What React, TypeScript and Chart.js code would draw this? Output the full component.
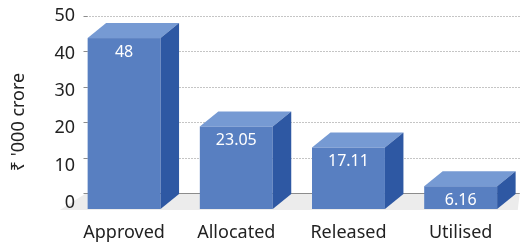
import React, { useEffect, useRef } from 'react';
import { Chart, registerables } from 'chart.js';

Chart.register(...registerables);

const categories = ['Approved', 'Allocated', 'Released', 'Utilised'];
const values = [48, 23.05, 17.11, 6.16];
const valueLabels = ['48', '23.05', '17.11', '6.16'];
const yTicks = [0, 10, 20, 30, 40, 50];
const yTitle = "₹ '000 crore";

const FONT = '"Noto Sans", "DejaVu Sans", sans-serif';
const DX = 18.5;
const DY = 15;
const FRONT_COLOR = '#587fc1';
const TOP_COLOR = '#769ad3';
const SIDE_COLOR = '#2e58a3';

const threeD = {
  id: 'threeD',
  beforeDatasetsDraw(chart: any) {
    const { ctx, chartArea, scales } = chart;
    const y = scales.y;
    const base = y.getPixelForValue(0);
    const wallLeft = chartArea.left + DX;
    const wallRight = chartArea.right + 3;
    ctx.save();
    // floor
    ctx.fillStyle = '#ececec';
    ctx.beginPath();
    ctx.moveTo(wallLeft, base);
    ctx.lineTo(wallRight, base);
    ctx.lineTo(wallRight - 2, base + 17);
    ctx.lineTo(chartArea.left - 8, base + 17);
    ctx.closePath();
    ctx.fill();
    // gridlines
    ctx.lineWidth = 1;
    for (const t of yTicks) {
      const py = Math.round(y.getPixelForValue(t)) + 0.5;
      ctx.beginPath();
      if (t === 0) {
        ctx.setLineDash([]);
        ctx.strokeStyle = '#8c8c8c';
      } else {
        ctx.setLineDash([1, 2]);
        ctx.strokeStyle = '#8a8a8a';
      }
      ctx.moveTo(wallLeft, py);
      ctx.lineTo(wallRight, py);
      ctx.stroke();
      // small tick at the wall edge
      ctx.setLineDash([]);
      ctx.strokeStyle = '#8c8c8c';
      ctx.beginPath();
      ctx.moveTo(wallLeft - 3, py);
      ctx.lineTo(wallLeft + 1, py);
      ctx.stroke();
    }
    ctx.setLineDash([]);
    // y tick labels
    ctx.fillStyle = '#222';
    ctx.font = `18px ${FONT}`;
    ctx.textAlign = 'right';
    ctx.textBaseline = 'middle';
    for (const t of yTicks) {
      const py = y.getPixelForValue(t) + 10 * (1 - t / 50);
      ctx.fillText(String(t), 75, py);
    }
    // y title
    ctx.translate(19, 122);
    ctx.rotate(-Math.PI / 2);
    ctx.textAlign = 'center';
    ctx.fillText(yTitle, 0, 0);
    ctx.restore();
  },
  afterDatasetsDraw(chart: any) {
    const { ctx } = chart;
    const meta = chart.getDatasetMeta(0);
    ctx.save();
    meta.data.forEach((bar: any, i: number) => {
      const w = bar.width;
      const left = bar.x - w / 2;
      const right = bar.x + w / 2;
      const top = bar.y + DY;
      const bottom = bar.base + 16;
      // front
      ctx.fillStyle = FRONT_COLOR;
      ctx.fillRect(left, top, w, bottom - top);
      // top
      ctx.fillStyle = TOP_COLOR;
      ctx.beginPath();
      ctx.moveTo(left, top);
      ctx.lineTo(right, top);
      ctx.lineTo(right + DX, top - DY);
      ctx.lineTo(left + DX, top - DY);
      ctx.closePath();
      ctx.fill();
      // side
      ctx.fillStyle = SIDE_COLOR;
      ctx.beginPath();
      ctx.moveTo(right, top);
      ctx.lineTo(right + DX, top - DY);
      ctx.lineTo(right + DX, bottom - DY);
      ctx.lineTo(right, bottom);
      ctx.closePath();
      ctx.fill();
      // value label
      ctx.fillStyle = '#ffffff';
      ctx.font = `16px ${FONT}`;
      ctx.textAlign = 'center';
      ctx.textBaseline = 'middle';
      ctx.fillText(valueLabels[i], bar.x, top + 14);
    });
    ctx.restore();
  },
};

export default function App() {
  const ref = useRef<HTMLCanvasElement | null>(null);
  useEffect(() => {
    document.body.style.margin = '0';
    const canvas = ref.current!;
    const chart = new Chart(canvas, {
      type: 'bar',
      data: {
        labels: categories,
        datasets: [
          {
            data: values,
            backgroundColor: 'rgba(0,0,0,0)',
            borderWidth: 0,
            barPercentage: 0.65,
            categoryPercentage: 1,
          },
        ],
      },
      options: {
        responsive: false,
        animation: false,
        devicePixelRatio: 1,
        layout: { padding: { left: 68, right: 5, top: 16, bottom: 4 } },
        plugins: { legend: { display: false }, tooltip: { enabled: false } },
        scales: {
          x: {
            grid: { display: false, drawTicks: false },
            border: { display: false },
            ticks: { color: '#222', font: { family: FONT, size: 18 }, padding: 29 },
            afterFit: (scale: any) => {
              scale.height = 50;
            },
          },
          y: {
            display: false,
            min: 0,
            max: 50,
          },
        },
      },
      plugins: [threeD],
    });
    return () => chart.destroy();
  }, []);
  return (
    <div style={{ width: 522, height: 247 }}>
      <canvas ref={ref} width={522} height={247} />
    </div>
  );
}
